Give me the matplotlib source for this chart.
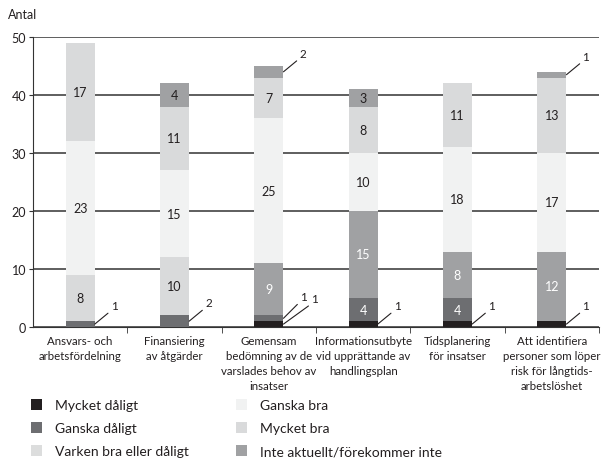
import numpy as np
import matplotlib
matplotlib.use('Agg')
import matplotlib.pyplot as plt
from matplotlib.patches import Patch

plt.rcParams['font.family'] = ['Lato', 'DejaVu Sans']

categories = ["Ansvars- och\narbetsfördelning",
              "Finansiering\nav åtgärder",
              "Gemensam\nbedömning av de\nvarslades behov av\ninsatser",
              "Informationsutbyte\nvid upprättande av\nhandlingsplan",
              "Tidsplanering\nför insatser",
              "Att identifiera\npersoner som löper\nrisk för långtids-\narbetslöshet"]

mycket_daligt = [0, 0, 1, 1, 1, 1]
ganska_daligt = [1, 2, 1, 4, 4, 0]
varken = [8, 10, 9, 15, 8, 12]
ganska_bra = [23, 15, 25, 10, 18, 17]
mycket_bra = [17, 11, 7, 8, 11, 13]
inte_aktuellt = [0, 4, 2, 3, 0, 1]

series_names = ["Mycket dåligt", "Ganska dåligt", "Varken bra eller dåligt",
                "Ganska bra", "Mycket bra", "Inte aktuellt/förekommer inte"]
series = [mycket_daligt, ganska_daligt, varken, ganska_bra, mycket_bra, inte_aktuellt]

BLACK = '#231f20'
DARK = '#6d6e71'
MID = '#a0a1a3'
LIGHT = '#d9dadb'
PALE = '#f1f2f2'
# the "varken" segment is drawn light in the first two bars, mid grey in the rest
varken_cols = [LIGHT, LIGHT, MID, MID, MID, MID]
bar_colors = [[BLACK] * 6, [DARK] * 6, varken_cols, [PALE] * 6, [LIGHT] * 6, [MID] * 6]
legend_colors = [BLACK, DARK, '#dcdddd', PALE, LIGHT, MID]

# leader-line offsets (points) for the small values, default otherwise
offsets = {(2, 1): (12, 12), (2, 0): (20, 14.5)}
default_off = (11.5, 9.5)

fig = plt.figure(figsize=(6.01, 4.6), dpi=100)
ax = fig.add_axes([33/601, 1-328/460, (599-33)/601, 290/460])

x = np.arange(len(categories))
w = 0.31
bottom = np.zeros(len(categories))
for s, (vals, cols) in enumerate(zip(series, bar_colors)):
    vals = np.array(vals, dtype=float)
    ax.bar(x, vals, w, bottom=bottom, color=cols, edgecolor='none', zorder=3)
    for i, v in enumerate(vals):
        if v >= 3:
            tc = 'white' if cols[i] in (DARK, BLACK) or (s == 2 and cols[i] == MID) else '#231f20'
            ax.text(x[i], bottom[i] + v/2, "%d" % v, ha='center', va='center',
                    fontsize=9, color=tc, zorder=4)
        elif v > 0:
            dx, dy = offsets.get((i, s), default_off)
            ax.annotate("%d" % v, xy=(x[i] + w/2, bottom[i] + v/2),
                        xytext=(dx, dy), textcoords='offset points',
                        ha='left', va='bottom', fontsize=8.5, color='#231f20',
                        arrowprops=dict(arrowstyle='-', lw=0.8, color='#231f20',
                                        shrinkA=0, shrinkB=0, relpos=(0, 0)),
                        zorder=5)
    bottom += vals

ax.set_xlim(-0.5, 5.5)
ax.set_ylim(0, 50)
ax.set_yticks(range(0, 51, 10))
ax.yaxis.grid(True, color='#333333', lw=1.1)
ax.set_axisbelow(True)
for sp in ['top', 'right']:
    ax.spines[sp].set_visible(False)
for sp in ['left', 'bottom']:
    ax.spines[sp].set_color('#333333')
ax.tick_params(axis='y', length=3, color='#333333', labelsize=9, pad=2, labelcolor='#231f20')
ax.set_xticks(x)
ax.set_xticklabels(categories, fontsize=8.3, linespacing=1.45, color='#231f20')
ax.tick_params(axis='x', which='major', length=0, pad=6)
ax.set_xticks(np.arange(0.5, 6, 1), minor=True)
ax.tick_params(axis='x', which='minor', length=4, color='#333333')

fig.text(8/601, 1-15/460, "Antal", fontsize=9, va='center', color='#231f20')

handles = [Patch(facecolor=c, edgecolor='none') for c in legend_colors]
leg_kw = dict(frameon=False, fontsize=10, handlelength=0.8, handleheight=0.8,
              handletextpad=0.95, labelspacing=0.78, borderpad=0, borderaxespad=0,
              loc='upper left', labelcolor='#231f20')
fig.legend(handles[:3], series_names[:3], bbox_to_anchor=(31/601, 1-400/460), **leg_kw)
fig.legend(handles[3:], series_names[3:], bbox_to_anchor=(236/601, 1-400/460), **leg_kw)

fig.savefig('out.png', dpi=100)
